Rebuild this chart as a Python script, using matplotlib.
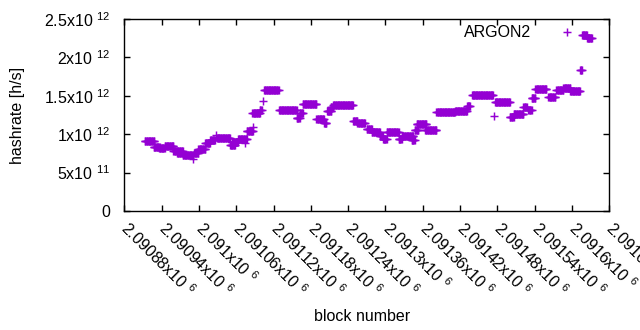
import numpy as np
import matplotlib
matplotlib.use("Agg")
import matplotlib.pyplot as plt

plt.rcParams['font.family'] = ['Liberation Sans', 'DejaVu Sans']
plt.rcParams['mathtext.fontset'] = 'custom'
plt.rcParams['mathtext.rm'] = 'Liberation Sans'
plt.rcParams['mathtext.it'] = 'Liberation Sans'
plt.rcParams['mathtext.default'] = 'regular'

# runs of (nearly) constant hashrate: first block, last block, hashrate [h/s]
run_start = [2090913, 2090927, 2090936, 2090945, 2090959, 2090965, 2090974, 2090991,
             2090992, 2090999, 2091010, 2091018, 2091027, 2091029, 2091050, 2091053,
             2091063, 2091074, 2091077, 2091087, 2091086, 2091098, 2091103, 2091105,
             2091129, 2091157, 2091162, 2091167, 2091189, 2091201, 2091206, 2091212,
             2091216, 2091248, 2091255, 2091270, 2091278, 2091291, 2091296, 2091302,
             2091321, 2091326, 2091342, 2091347, 2091350, 2091364, 2091382, 2091412,
             2091431, 2091439, 2091475, 2091476, 2091500, 2091506, 2091522, 2091530,
             2091535, 2091541, 2091562, 2091575, 2091586, 2091597, 2091613, 2091616,
             2091624]
run_end = [2090928, 2090937, 2090945, 2090959, 2090974, 2090973, 2090991, 2090991,
           2090999, 2091010, 2091018, 2091026, 2091027, 2091050, 2091058, 2091063,
           2091077, 2091074, 2091087, 2091087, 2091098, 2091101, 2091103, 2091128,
           2091157, 2091162, 2091167, 2091189, 2091201, 2091205, 2091213, 2091216,
           2091248, 2091255, 2091267, 2091278, 2091291, 2091296, 2091302, 2091321,
           2091326, 2091345, 2091347, 2091353, 2091366, 2091382, 2091412, 2091431,
           2091436, 2091473, 2091475, 2091500, 2091506, 2091522, 2091527, 2091535,
           2091541, 2091559, 2091573, 2091586, 2091597, 2091613, 2091616, 2091624,
           2091632]
run_value = [0.908e12, 0.837e12, 0.824e12, 0.850e12, 0.785e12, 0.759e12, 0.725e12, 0.673e12,
             0.751e12, 0.803e12, 0.882e12, 0.924e12, 0.990e12, 0.947e12, 0.859e12, 0.902e12,
             0.934e12, 0.882e12, 1.042e12, 1.098e12, 1.272e12, 1.315e12, 1.432e12, 1.572e12,
             1.315e12, 1.207e12, 1.272e12, 1.389e12, 1.198e12, 1.150e12, 1.302e12, 1.350e12,
             1.380e12, 1.172e12, 1.142e12, 1.064e12, 1.025e12, 0.980e12, 0.934e12, 1.025e12,
             0.934e12, 0.977e12, 0.924e12, 1.055e12, 1.133e12, 1.055e12, 1.285e12, 1.302e12,
             1.371e12, 1.514e12, 1.233e12, 1.415e12, 1.228e12, 1.259e12, 1.350e12, 1.315e12,
             1.467e12, 1.585e12, 1.480e12, 1.576e12, 1.598e12, 1.566e12, 1.836e12, 2.298e12,
             2.249e12]

x_ticks = [2090880 + 60 * i for i in range(14)]
x_tick_labels = ['2.09088', '2.09094', '2.091', '2.09106', '2.09112', '2.09118', '2.09124',
                 '2.0913', '2.09136', '2.09142', '2.09148', '2.09154', '2.0916', '2.09166']
y_ticks = [0, 0.5e12, 1.0e12, 1.5e12, 2.0e12, 2.5e12]
y_tick_labels = ['0', '5x10 $^{11}$', '1x10 $^{12}$', '1.5x10 $^{12}$', '2x10 $^{12}$', '2.5x10 $^{12}$']

color = '#9400D3'

fig = plt.figure(figsize=(6.4, 3.3), dpi=100)
ax = fig.add_axes([124.3 / 640, (330 - 211) / 330, 485 / 640, 192 / 330])

xs, ys = [], []
for s, e, v in zip(run_start, run_end, run_value):
    b = np.arange(s, e + 1)
    xs.append(b)
    ys.append(np.full(b.shape, v))
xs = np.concatenate(xs)
ys = np.concatenate(ys)
ax.plot(xs, ys, linestyle='none', marker='+', markersize=5.6, markeredgewidth=1.05,
        color=color, label='ARGON2')

ax.set_xlim(x_ticks[0], x_ticks[-1])
ax.set_ylim(0, 2.5e12)
ax.set_yticks(y_ticks)
ax.set_yticklabels(y_tick_labels, fontsize=11.5, va='center_baseline')
ax.set_xticks(x_ticks)
ax.set_xticklabels([l + 'x10 $^{6}$' for l in x_tick_labels], fontsize=11.5,
                   rotation=-45, ha='left', va='center', rotation_mode='anchor')
ax.tick_params(direction='in', length=4, width=1, top=True, right=True, color='black')
ax.tick_params(axis='y', pad=10)
ax.tick_params(axis='x', pad=10.5)
for sp in ax.spines.values():
    sp.set_linewidth(1.0)
    sp.set_color('black')

ax.set_xlabel('block number', fontsize=11.5)
ax.set_ylabel('hashrate [h/s]', fontsize=11.5)
ax.yaxis.set_label_coords(-(124.3 - 25) / 485, 0.5)
ax.xaxis.set_label_coords(0.49, -(309 - 211) / 192)

ax.legend(loc='upper right', bbox_to_anchor=(0.930, 0.967), frameon=False,
          markerfirst=False, handlelength=1.0, handletextpad=1.75, borderpad=0,
          borderaxespad=0, fontsize=11.5)

fig.savefig('out.png', dpi=100)
